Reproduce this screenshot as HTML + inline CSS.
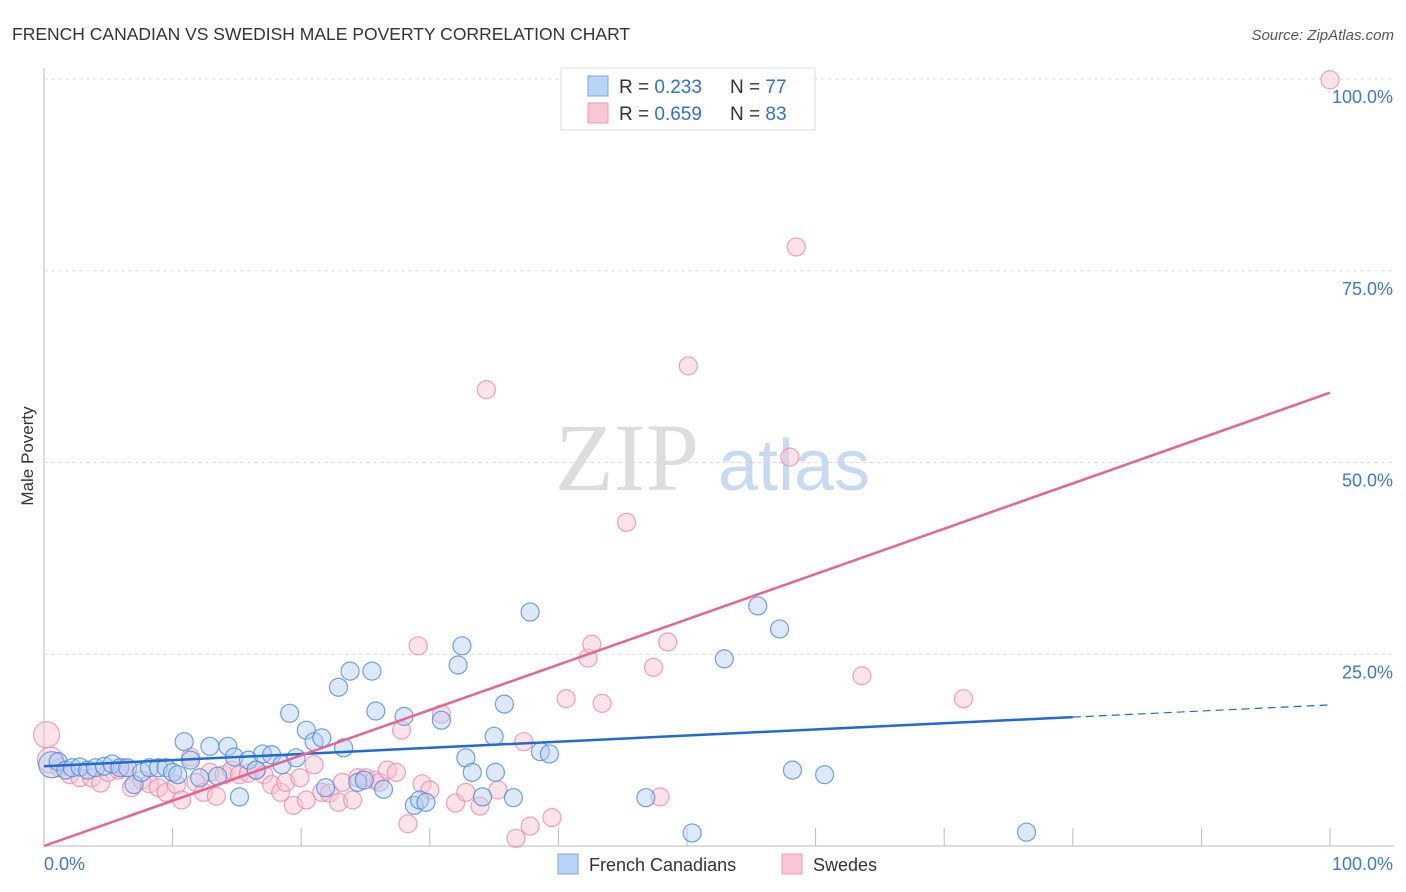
<!DOCTYPE html>
<html><head><meta charset="utf-8">
<style>
body{margin:0;background:#fff;font-family:"Liberation Sans",sans-serif;}
#wrap{position:relative;width:1406px;height:892px;overflow:hidden;}
</style></head>
<body>
<div id="wrap">
<svg id="chart" width="1406" height="892" xmlns="http://www.w3.org/2000/svg">
  <text x="12" y="40" font-size="17.5" fill="#333">FRENCH CANADIAN VS SWEDISH MALE POVERTY CORRELATION CHART</text>
  <text x="1394" y="40" font-size="15" fill="#555" text-anchor="end" font-style="italic">Source: ZipAtlas.com</text>
  <text x="33" y="456" font-size="17" fill="#333" text-anchor="middle" transform="rotate(-90 33 456)">Male Poverty</text>
  <g id="grid"></g>
  <text x="555" y="490" font-size="96" fill="#ddd" font-family="Liberation Serif, serif">ZIP</text>
  <text x="718" y="490" font-size="72" fill="#c8daf2">atlas</text>
  <g id="pts"></g>
  <g id="lines"></g>
  <g id="legend">
    <rect x="561" y="68" width="254" height="62" fill="#fff" stroke="#ddd"/>
    <rect x="588" y="76" width="20" height="20" fill="#b8d3f5" stroke="#7aa7e6"/>
    <rect x="588" y="103" width="20" height="20" fill="#fac5d5" stroke="#f09ab5"/>
    <text x="619" y="93" font-size="19" fill="#333">R = <tspan fill="#2f6fd6">0.233</tspan></text>
    <text x="730" y="93" font-size="19" fill="#333">N = <tspan fill="#2f6fd6">77</tspan></text>
    <text x="619" y="120" font-size="19" fill="#333">R = <tspan fill="#2f6fd6">0.659</tspan></text>
    <text x="730" y="120" font-size="19" fill="#333">N = <tspan fill="#2f6fd6">83</tspan></text>
  </g>
  <g id="bottom-legend">
    <rect x="558" y="854" width="20" height="20" fill="#b8d3f5" stroke="#7aa7e6"/>
    <text x="589" y="871" font-size="18" fill="#333">French Canadians</text>
    <rect x="782" y="854" width="20" height="20" fill="#fac5d5" stroke="#f09ab5"/>
    <text x="813" y="871" font-size="18" fill="#333">Swedes</text>
  </g>
</svg>
</div>
<script>
const yTicks=[25,50,75,100];
const yTickLabels=["25.0%","50.0%","75.0%","100.0%"];
const xTickLabels=["0.0%","100.0%"];
const blueX=[0.6,1.1,1.7,2.2,2.8,3.4,4.0,4.7,5.3,5.9,6.5,7.0,7.6,8.2,8.9,9.5,10.0,10.4,10.9,11.4,12.1,12.9,13.5,14.3,14.8,15.2,15.9,16.5,17.0,17.7,18.5,19.1,19.6,20.4,21.0,21.6,21.9,22.9,23.3,23.8,24.4,24.9,25.5,25.8,26.4,28.0,28.8,29.2,29.7,30.9,32.2,32.5,32.8,33.3,34.1,35.0,35.1,35.8,36.5,37.8,38.6,39.3,46.8,50.4,52.9,55.5,57.2,58.2,60.7,76.4];
const blueY=[10.6,11.0,9.9,10.2,10.3,9.9,10.2,10.4,10.7,10.2,10.2,8.0,9.6,10.2,10.2,10.2,9.6,9.3,13.6,11.2,8.9,13.0,9.1,13.0,11.6,6.4,11.2,9.9,12.0,11.9,10.6,17.3,11.5,15.1,13.6,14.1,7.6,20.7,12.8,22.8,8.3,8.6,22.8,17.6,7.4,16.9,5.3,6.0,5.7,16.4,23.6,26.1,11.5,9.6,6.4,14.3,9.6,18.5,6.3,30.5,12.3,12.0,6.3,1.7,24.4,31.3,28.3,9.9,9.3,1.8];
const pinkX=[0.2,0.5,1.2,2.0,2.8,3.7,4.4,5.0,5.8,6.2,6.8,7.6,8.2,8.9,9.5,10.3,10.7,11.4,11.8,12.4,12.9,13.4,14.0,14.6,15.2,15.9,16.5,17.1,17.7,18.4,18.8,19.4,19.9,20.4,21.0,21.6,22.2,22.9,23.2,24.0,24.4,25.0,25.7,26.1,26.7,27.4,27.8,28.3,29.1,29.4,30.0,30.9,32.0,32.8,33.9,34.4,35.3,36.7,37.3,37.8,39.5,40.6,42.3,42.6,43.4,45.3,47.4,47.9,48.5,50.1,58.0,58.5,63.6,71.5,100];
const pinkY=[14.5,11.2,10.2,9.3,8.9,8.9,8.2,9.6,9.9,10.2,7.6,8.6,8.1,7.6,7.0,8.0,6.0,11.6,8.3,7.0,9.6,6.5,9.3,9.9,9.3,9.5,9.9,9.3,8.0,7.0,8.3,5.3,8.9,6.0,10.6,7.0,6.9,5.7,8.3,6.0,8.9,8.9,8.6,8.3,9.9,9.6,15.1,2.9,26.1,8.1,7.3,17.2,5.6,7.0,5.2,59.5,7.3,1.0,13.6,2.6,3.7,19.2,24.5,26.3,18.6,42.2,23.3,6.4,26.6,62.6,50.7,78.1,22.2,19.2,99.9];
const blueLine=[10.4,0.08];
const pinkLine=[-0.1,0.592];

const X0=44,X1=1330,Y0=846,Y1=79;
const sx=v=>X0+(X1-X0)*v/100;
const sy=v=>Y0-(Y0-Y1)*v/100;
const NS="http://www.w3.org/2000/svg";
function mk(tag,attrs,parent){const e=document.createElementNS(NS,tag);for(const k in attrs)e.setAttribute(k,attrs[k]);parent.appendChild(e);return e;}
const grid=document.getElementById('grid');
const ya=mk('line',{x1:X0,y1:68,x2:X0,y2:Y0,stroke:'#bbb'},grid);


const xa=mk('line',{x1:X0,y1:Y0,x2:1394,y2:Y0,stroke:'#bbb'},grid);


yTicks.forEach((t,i)=>{
  const g=mk('line',{x1:X0,y1:sy(t),x2:1394,y2:sy(t),stroke:'#ddd','stroke-dasharray':'4 3'},grid);
  
  
  const tx=mk('text',{x:1393,y:sy(t)+24,'font-size':18,fill:'#3a78d8','text-anchor':'end'},grid);
  tx.textContent=yTickLabels[i];
  
  
});
for(let i=1;i<=10;i++){
  const tk=mk('line',{x1:sx(i*10),y1:828,x2:sx(i*10),y2:Y0,stroke:'#bbb'},grid);
  
  
}
const xl0=mk('text',{x:44,y:870,'font-size':18,fill:'#3a78d8'},grid);
xl0.textContent=xTickLabels[0];


const xl1=mk('text',{x:1393,y:870,'font-size':18,fill:'#3a78d8','text-anchor':'end'},grid);
xl1.textContent=xTickLabels[1];



const pts=document.getElementById('pts');
function drawPts(xs,ys,fill,stroke,name){
  xs.forEach((x,i)=>{
    const r=(x<1)?13:9;
    const c=mk('circle',{cx:sx(x),cy:sy(ys[i]),r:r,fill:fill,'fill-opacity':0.45,stroke:stroke,'stroke-opacity':0.8,'stroke-width':1.2},pts);
    
    
  });
}
drawPts(pinkX,pinkY,'#f9c0d0','#ee8aa8','swede-point');
drawPts(blueX,blueY,'#b3cff2','#4d8ae0','french-canadian-point');

const lines=document.getElementById('lines');
const bl=mk('line',{x1:sx(0),y1:sy(blueLine[0]),x2:sx(80),y2:sy(blueLine[0]+blueLine[1]*80),stroke:'#1f6ad6','stroke-width':2.5},lines);


const bd=mk('line',{x1:sx(80),y1:sy(blueLine[0]+blueLine[1]*80),x2:sx(100),y2:sy(blueLine[0]+blueLine[1]*100),stroke:'#1f6ad6','stroke-width':1.2,'stroke-dasharray':'8 5'},lines);


const pl=mk('line',{x1:sx(0),y1:sy(Math.max(0,pinkLine[0])),x2:sx(100),y2:sy(pinkLine[0]+pinkLine[1]*100),stroke:'#e8648f','stroke-width':2.5},lines);


</script>
</body></html>
